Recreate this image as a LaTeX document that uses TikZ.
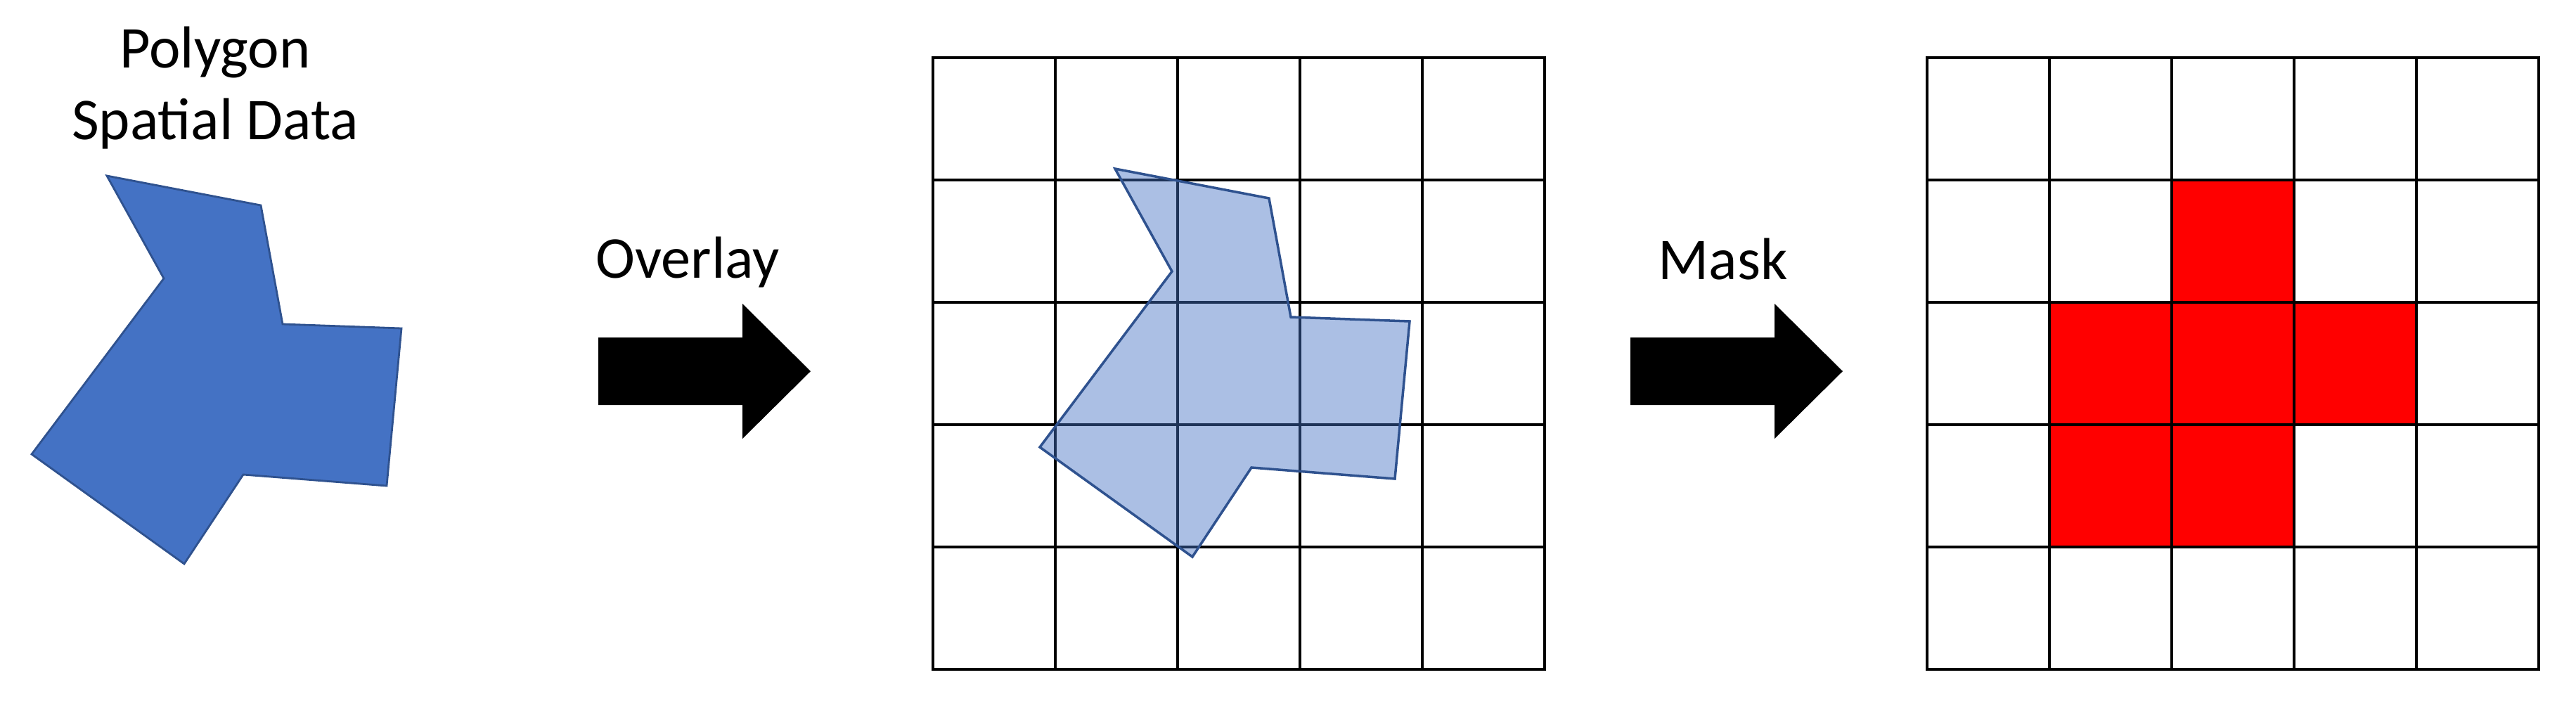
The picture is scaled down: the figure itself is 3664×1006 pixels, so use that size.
\documentclass[tikz,border=0pt]{standalone}
\usepackage{fontspec}
\setmainfont{Carlito}

\definecolor{polyblue}{HTML}{4472C4}
\definecolor{polyedge}{HTML}{2F528F}

% outline of the polygon, in pixel units
\newcommand{\polyshape}{(152,250) -- (371,292) -- (402,461) -- (571,467) -- (550,691)
	-- (346,675) -- (262,802) -- (45,646) -- (233,396) -- cycle}

\begin{document}
\begin{tikzpicture}[x=0.1mm, y=-0.1mm,
		txt/.style={font=\fontsize{24}{29}\selectfont, inner sep=0pt},
		gridline/.style={line width=1.25pt, line cap=rect, black}]
		\useasboundingbox (0,0) rectangle (3664,1006);

		\coordinate (overlaygrid) at (1327,82);
		\coordinate (maskgrid) at (2741,82);

		% polygon and its title
		\node [txt, anchor=base, align=center] (title) at (306,198) {Polygon\\Spatial Data};
		\filldraw [fill=polyblue, draw=polyedge, line width=0.8pt] \polyshape;

		% block arrows with their labels
		\node [txt, anchor=base west] (overlay) at (847,395) {Overlay};
		\node [txt, anchor=base west] (mask) at (2358,397) {Mask};
		\foreach \l in {851, 2319}
			\fill [black] (\l,480) -- (\l+205,480) -- (\l+205,432) -- (\l+302,528)
				-- (\l+205,624) -- (\l+205,576) -- (\l,576) -- cycle;

		% red cells of the mask
		\foreach \c/\r in {2/1, 1/2, 2/2, 3/2, 1/3, 2/3}
			\fill [red] (2741+\c*174, 82+\r*174) rectangle +(174,174);

		% draw the two 5x5 grids
		\foreach \i in {0,...,5} {
			\draw [gridline] (1327+\i*174,82) -- (1327+\i*174,952);
			\draw [gridline] (1327,82+\i*174) -- (2197,82+\i*174);
			\draw [gridline] (2741+\i*174,82) -- (2741+\i*174,952);
			\draw [gridline] (2741,82+\i*174) -- (3611,82+\i*174);
		}

		% polygon laid over the first grid
		\filldraw [shift={(1434,-10)}, fill=polyblue, fill opacity=0.45,
			draw=polyedge, line width=1pt] \polyshape;
\end{tikzpicture}
\end{document}
